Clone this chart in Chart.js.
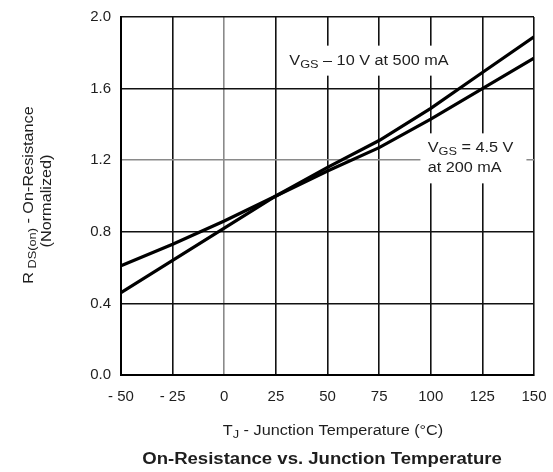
<!DOCTYPE html>
<html>
<head>
<meta charset="utf-8">
<script src="https://cdn.jsdelivr.net/npm/chart.js@4.4.1/dist/chart.umd.min.js"></script>
<style>
  html, body { margin: 0; padding: 0; background: #fff; }
  #wrap { width: 553px; height: 472px; position: relative; }
</style>
</head>
<body>
<div id="wrap"><canvas id="rdsChart"></canvas></div>
<script>
// junction temperature, °C
var temps = [-50, -25, 0, 25, 50, 75, 100, 125, 150];
// normalized on-resistance
var rds10V = [0.46, 0.64, 0.82, 1.0, 1.16, 1.31, 1.49, 1.69, 1.89];
var rds45V = [0.61, 0.73, 0.86, 1.0, 1.14, 1.27, 1.43, 1.60, 1.77];

var xTickLabels = ['- 50', '- 25', '0', '25', '50', '75', '100', '125', '150'];
var yTickLabels = ['0.0', '0.4', '0.8', '1.2', '1.6', '2.0'];

function toPoints(ys) {
  return temps.map(function (t, i) { return { x: t, y: ys[i] }; });
}

var FONT = '"Liberation Sans", Arial, sans-serif';
var INK = '#1e1e1e';
var STRETCH = 1.16; // the scan's lettering is a bit wide

// draw text made of plain and subscript pieces, stretched sideways
function drawRich(ctx, parts, x, y, size, align, weight) {
  var subSize = Math.round(size * 0.8);
  var w = weight ? weight + ' ' : '';
  var total = 0;
  parts.forEach(function (p) {
    ctx.font = w + (p[1] ? subSize : size) + 'px ' + FONT;
    total += ctx.measureText(p[0]).width;
  });
  ctx.save();
  ctx.translate(align === 'center' ? x - total * STRETCH / 2 : x, y);
  ctx.scale(STRETCH, 1);
  ctx.textAlign = 'left';
  ctx.textBaseline = 'middle';
  var cx = 0;
  parts.forEach(function (p) {
    ctx.font = w + (p[1] ? subSize : size) + 'px ' + FONT;
    ctx.fillText(p[0], cx, p[1] ? size * 0.3 : 0);
    cx += ctx.measureText(p[0]).width;
  });
  ctx.restore();
}

var labelsPlugin = {
  id: 'labels',
  beforeDatasetsDraw: function (chart) {
    var ctx = chart.ctx, xs = chart.scales.x, ys = chart.scales.y;
    ctx.save();
    ctx.fillStyle = '#fff';
    // clear grid behind the curve labels
    ctx.fillRect(xs.getPixelForValue(27), ys.getPixelForValue(1.84), 184, 30);
    ctx.fillRect(xs.getPixelForValue(95), ys.getPixelForValue(1.35), 106, 50);
    ctx.fillStyle = INK;
    drawRich(ctx, [['V', 0], ['GS', 1], [' – 10 V at 500 mA', 0]],
      xs.getPixelForValue(31.5), ys.getPixelForValue(1.755), 14, 'left');
    drawRich(ctx, [['V', 0], ['GS', 1], [' = 4.5 V', 0]],
      xs.getPixelForValue(98.5), ys.getPixelForValue(1.27), 14, 'left');
    drawRich(ctx, [['at 200 mA', 0]],
      xs.getPixelForValue(98.5), ys.getPixelForValue(1.155), 14, 'left');
    ctx.restore();
  },
  afterDraw: function (chart) {
    var ctx = chart.ctx, area = chart.chartArea;
    var midX = (area.left + area.right) / 2;
    ctx.fillStyle = INK;
    // y axis title, rotated
    ctx.save();
    ctx.translate(29, 195);
    ctx.rotate(-Math.PI / 2);
    drawRich(ctx, [['R', 0], [' DS(on)', 1], [' - On-Resistance', 0]], 0, 0, 14, 'center');
    ctx.restore();
    ctx.save();
    ctx.translate(47, 201);
    ctx.rotate(-Math.PI / 2);
    drawRich(ctx, [['(Normalized)', 0]], 0, 0, 14, 'center');
    ctx.restore();
    drawRich(ctx, [['T', 0], ['J', 1], [' - Junction Temperature (°C)', 0]], 333, 431, 14, 'center');
    drawRich(ctx, [['On-Resistance vs. Junction Temperature', 0]], 322, 460, 16, 'center', 'bold');
  }
};

new Chart(document.getElementById('rdsChart'), {
  type: 'line',
  data: {
    datasets: [
      {
        label: 'VGS = 10 V at 500 mA',
        data: toPoints(rds10V),
        borderColor: '#000',
        borderWidth: 3.2,
        pointRadius: 0,
        fill: false
      },
      {
        label: 'VGS = 4.5 V at 200 mA',
        data: toPoints(rds45V),
        borderColor: '#000',
        borderWidth: 3.2,
        pointRadius: 0,
        fill: false
      }
    ]
  },
  options: {
    responsive: true,
    maintainAspectRatio: false,
    animation: false,
    layout: { padding: { left: 0, top: 17, right: 19, bottom: 0 } },
    plugins: {
      legend: { display: false },
      tooltip: { enabled: false }
    },
    scales: {
      x: {
        type: 'linear',
        min: -50,
        max: 150,
        afterFit: function (s) { s.height = 97; s.paddingRight = 0; s.paddingLeft = 0; },
        ticks: {
          stepSize: 25,
          padding: 13,
          color: INK,
          font: { family: FONT, size: 15 },
          callback: function (v) { return xTickLabels[temps.indexOf(v)]; }
        },
        grid: {
          drawTicks: false,
          lineWidth: 1.6,
          color: function (c) { return c.tick && c.tick.value === 0 ? '#8a8a8a' : '#111'; }
        },
        border: { color: '#000', width: 2 }
      },
      y: {
        min: 0,
        max: 2,
        afterFit: function (s) { s.width = 121; s.paddingTop = 0; s.paddingBottom = 0; },
        ticks: {
          stepSize: 0.4,
          padding: 10,
          color: INK,
          font: { family: FONT, size: 15 },
          callback: function (v, i) { return yTickLabels[i]; }
        },
        grid: {
          drawTicks: false,
          lineWidth: 1.6,
          color: function (c) { return c.tick && Math.abs(c.tick.value - 1.2) < 0.01 ? '#8a8a8a' : '#111'; }
        },
        border: { color: '#000', width: 2 }
      }
    }
  },
  plugins: [labelsPlugin]
});
</script>
</body>
</html>
